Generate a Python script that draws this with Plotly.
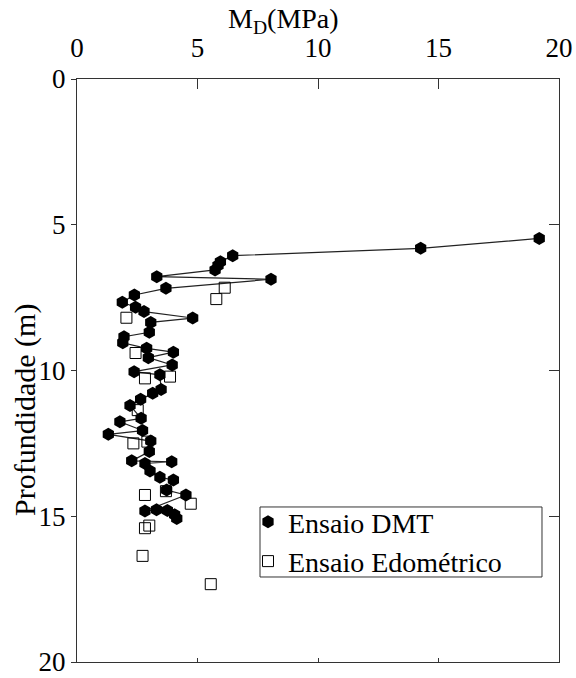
import plotly.graph_objects as go

# DMT (M_D in MPa, depth in m), in drawing order
dmt_md = [19.18, 14.26, 6.46, 5.95, 5.85, 5.73, 3.31, 8.05, 3.69, 2.38, 1.88, 2.43, 2.78, 4.80,
          3.06, 3.00, 1.95, 1.90, 2.89, 4.00, 2.96, 3.95, 2.37, 3.44, 3.49, 3.14, 2.64, 2.20,
          2.66, 1.78, 2.72, 1.30, 3.06, 3.00, 2.27, 3.93, 2.82, 3.03, 3.44, 4.00, 3.72, 4.52,
          2.82, 3.30, 3.75, 4.05, 4.14]
dmt_z = [5.47, 5.81, 6.06, 6.27, 6.40, 6.55, 6.78, 6.87, 7.18, 7.41, 7.66, 7.83, 7.98, 8.20,
         8.35, 8.69, 8.84, 9.05, 9.24, 9.37, 9.56, 9.81, 10.04, 10.15, 10.65, 10.78, 10.99, 11.20,
         11.64, 11.76, 12.06, 12.19, 12.42, 12.78, 13.10, 13.13, 13.19, 13.45, 13.66, 13.76, 14.10, 14.27,
         14.82, 14.78, 14.80, 14.95, 15.08]

# Oedometer tests
edo_md = [6.13, 5.78, 2.05, 2.43, 2.82, 3.86, 2.52, 2.92, 2.34, 2.82, 3.69, 4.72, 3.00, 2.82, 2.72, 5.55]
edo_z = [7.16, 7.55, 8.19, 9.40, 10.27, 10.21, 11.36, 12.44, 12.50, 14.27, 14.14, 14.57, 15.32, 15.41, 16.36, 17.33]

tick_vals = [0, 5, 10, 15, 20]
tick_text = ["0", "5", "10", "15", "20"]
x_range = [0, 20]
y_range = [20, 0]

FONT = "Liberation Serif"
AX = "#333333"

fig = go.Figure()
fig.add_trace(go.Scatter(
    x=dmt_md, y=dmt_z, mode="lines", showlegend=False, hoverinfo="skip",
    line=dict(color="#222222", width=1.2),
))
fig.add_trace(go.Scatter(
    x=dmt_md, y=dmt_z, mode="markers", name="Ensaio DMT",
    marker=dict(symbol="hexagon", size=13, color="black", line=dict(width=0)),
))
fig.add_trace(go.Scatter(
    x=edo_md, y=edo_z, mode="markers", name="Ensaio Edométrico",
    marker=dict(symbol="square-open", size=11, color="black", line=dict(width=1)),
))
# invisible trace to carry the mirrored frame axes (bottom / right)
fig.add_trace(go.Scatter(
    x=edo_md, y=edo_z, xaxis="x2", yaxis="y2", mode="markers", showlegend=False,
    hoverinfo="skip", marker=dict(opacity=0),
))

base = dict(showline=True, linecolor=AX, linewidth=1, showgrid=False, zeroline=False,
            tickcolor=AX, automargin=False, tickvals=tick_vals, ticktext=tick_text,
            tickfont=dict(family=FONT, size=27, color="black"))

fig.update_layout(
    xaxis=dict(side="top", range=x_range, ticks="inside", ticklen=10,
               ticklabelstandoff=10, **base),
    xaxis2=dict(side="bottom", overlaying="x", range=x_range, ticks="inside", ticklen=4,
                showticklabels=False, **base),
    yaxis=dict(range=y_range, ticks="outside", ticklen=5, **base),
    yaxis2=dict(side="right", overlaying="y", range=y_range, ticks="inside", ticklen=10,
                showticklabels=False, **base),
)

fig.add_annotation(text="M<sub>D</sub>(MPa)", xref="paper", yref="paper",
                   x=0.4274, y=1.1012, xanchor="center", yanchor="middle", showarrow=False,
                   font=dict(family=FONT, size=28, color="black"))
fig.add_annotation(text="Profundidade (m)", xref="paper", yref="paper", textangle=-90,
                   x=-0.1079, y=0.4322, xanchor="center", yanchor="middle", showarrow=False,
                   font=dict(family=FONT, size=30, color="black"))

# legend frame
fig.add_shape(type="rect", xref="paper", yref="paper", x0=0.3797, x1=0.9647, y0=0.1458, y1=0.2659,
              line=dict(color=AX, width=1), fillcolor="white", layer="below")

fig.update_layout(
    width=576, height=678,
    margin=dict(l=77, r=17, t=79, b=16),
    paper_bgcolor="white", plot_bgcolor="white",
    font=dict(family=FONT, size=27, color="black"),
    showlegend=True,
    legend=dict(
        x=0.3548, y=0.283, xanchor="left", yanchor="top",
        bgcolor="rgba(0,0,0,0)", borderwidth=0,
        font=dict(family=FONT, size=28, color="black"),
        tracegroupgap=0, itemwidth=30,
    ),
)

fig.write_html("out.html", config={"displayModeBar": False},
               post_script="document.body.style.margin='0';")
